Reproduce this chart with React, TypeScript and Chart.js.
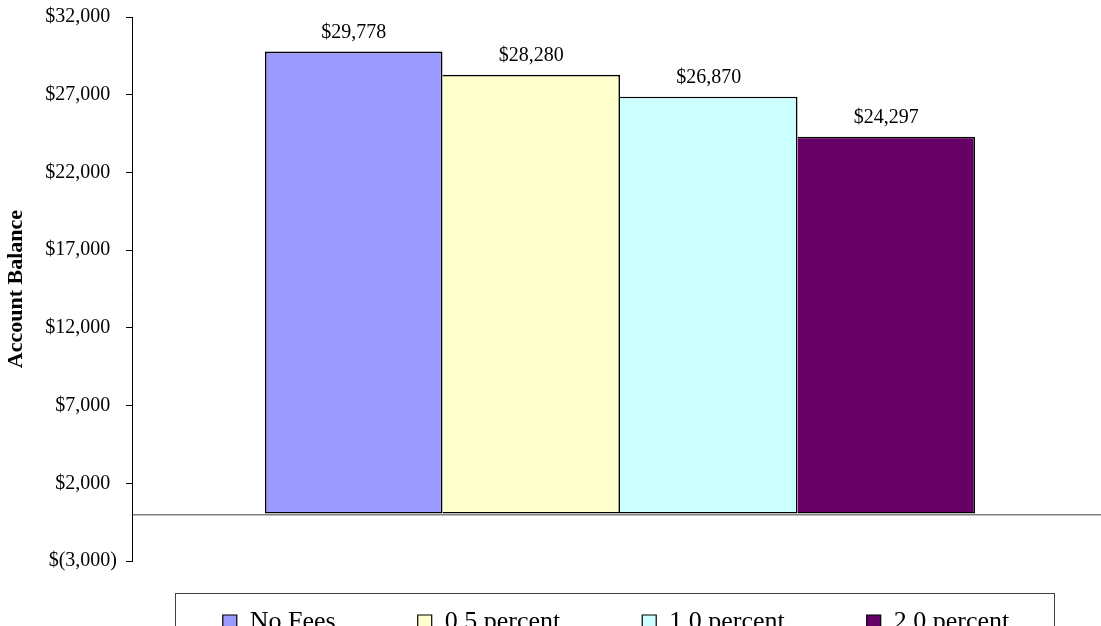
import React, { useEffect, useRef } from 'react';
import { Chart, registerables } from 'chart.js';

Chart.register(...registerables);

const categories = ['Account Balance'];
const seriesNames = ['No Fees', '0.5 percent', '1.0 percent', '2.0 percent'];
const seriesValues = [29778, 28280, 26870, 24297];
const seriesColors = ['#9999FF', '#FFFFCC', '#CCFFFF', '#660066'];
const yMin = -3000;
const yMax = 32000;
const yStep = 5000;
const yTitle = 'Account Balance';

const FONT = "'Liberation Serif', 'Times New Roman', serif";

const money = (v: number) => '$' + Math.abs(v).toLocaleString('en-US');
const tickLabel = (v: number) => (v < 0 ? '$(' + Math.abs(v).toLocaleString('en-US') + ')' : money(v) + '\u2004');

const ROW_GAP = 48; // legend row offset below the plot area
const ROW_SHIFT = -4; // horizontal nudge of the legend row

const legendFramePlugin = {
  id: 'legendFrame',
  afterLayout(chart: any) {
    const lg = chart.legend;
    if (!lg) return;
    const pad = lg.options.labels.padding;
    const rowY = chart.chartArea.bottom + ROW_GAP;
    const dy = rowY - pad - lg.top;
    lg.top += dy;
    lg.bottom += dy;
    lg.left += ROW_SHIFT;
    lg.right += ROW_SHIFT;
  },
  afterDraw(chart: any) {
    const lg = chart.legend;
    if (!lg || !lg.legendHitBoxes || !lg.legendHitBoxes.length) return;
    const boxes = lg.legendHitBoxes;
    const first = boxes[0];
    const last = boxes[boxes.length - 1];
    const left = Math.round(first.left - 48) + 0.5;
    const right = Math.round(last.left + last.width + 45) + 0.5;
    const top = 593.5;
    const ctx = chart.ctx;
    ctx.save();
    ctx.strokeStyle = '#404040';
    ctx.lineWidth = 1;
    ctx.strokeRect(left, top, right - left, 80);
    ctx.restore();
  },
};

const valueLabelPlugin = {
  id: 'valueLabels',
  afterDatasetsDraw(chart: any) {
    const ctx = chart.ctx;
    ctx.save();
    ctx.font = '20px ' + FONT;
    ctx.fillStyle = '#000';
    ctx.textAlign = 'center';
    ctx.textBaseline = 'alphabetic';
    chart.data.datasets.forEach((ds: any, i: number) => {
      const meta = chart.getDatasetMeta(i);
      meta.data.forEach((bar: any, j: number) => {
        ctx.fillText(money(ds.data[j]), bar.x, bar.y - 13.5);
      });
    });
    ctx.restore();
  },
};

export default function App() {
  const canvasRef = useRef<HTMLCanvasElement | null>(null);

  useEffect(() => {
    const canvas = canvasRef.current;
    if (!canvas) return;
    Chart.defaults.font.family = FONT;
    Chart.defaults.color = '#000';

    const chart = new Chart(canvas, {
      type: 'bar',
      data: {
        labels: categories,
        datasets: seriesNames.map((name, i) => ({
          label: name,
          data: [seriesValues[i]],
          backgroundColor: seriesColors[i],
          borderColor: '#000',
          borderWidth: i === 0 ? 1.6 : { top: 1.6, right: 1.6, bottom: 1.6, left: 0 },
          borderSkipped: false,
          barPercentage: 1,
          categoryPercentage: 0.7275,
        })),
      },
      options: {
        responsive: false,
        animation: false,
        devicePixelRatio: 1,
        layout: { padding: { left: 0, right: 0, top: 17, bottom: 0 } },
        plugins: {
          tooltip: { enabled: false },
          legend: {
            position: 'bottom',
            fullSize: false,
            labels: {
              boxWidth: 14,
              boxHeight: 14,
              padding: 82,
              color: '#000',
              font: { size: 26, family: FONT },
              generateLabels: (chart: any) =>
                chart.data.datasets.map((ds: any, i: number) => ({
                  text: ds.label,
                  fillStyle: ds.backgroundColor,
                  strokeStyle: '#000',
                  lineWidth: 1.2,
                  hidden: false,
                  datasetIndex: i,
                  fontColor: '#000',
                })),
            },
          },
        },
        scales: {
          x: {
            type: 'category',
            display: false,
            grid: { display: false },
          },
          y: {
            min: yMin,
            max: yMax,
            afterBuildTicks: (scale: any) => {
              if (!scale.ticks.some((t: any) => t.value === 0)) {
                scale.ticks = [...scale.ticks, { value: 0 }].sort((a: any, b: any) => a.value - b.value);
              }
            },
            afterFit: (scale: any) => {
              scale.width = 132;
              scale.paddingTop = 0;
              scale.paddingBottom = 0;
            },
            ticks: {
              stepSize: yStep,
              color: '#000',
              padding: 9,
              font: { size: 20, family: FONT },
              callback: (v: any) => (Number(v) === 0 ? '' : tickLabel(Number(v))),
            },
            grid: {
              drawOnChartArea: true,
              drawTicks: true,
              tickLength: 6,
              color: (c: any) => (c.tick && c.tick.value === 0 ? '#808080' : 'rgba(0,0,0,0)'),
              tickColor: (c: any) => (c.tick && c.tick.value === 0 ? 'rgba(0,0,0,0)' : '#000'),
              lineWidth: (c: any) => (c.tick && c.tick.value === 0 ? 1.5 : 1),
            },
            border: { display: true, color: '#000', width: 1 },
            title: {
              display: true,
              text: yTitle,
              color: '#000',
              font: { size: 22, weight: 'bold', family: FONT },
              padding: { top: 3, bottom: 0 },
            },
          },
        },
      },
      plugins: [legendFramePlugin, valueLabelPlugin],
    } as any);

    return () => chart.destroy();
  }, []);

  return (
    <div style={{ position: 'absolute', left: 0, top: 0, width: 1101, height: 626, overflow: 'hidden', background: '#fff' }}>
      <canvas ref={canvasRef} width={1108} height={679} style={{ width: 1108, height: 679, display: 'block' }} />
    </div>
  );
}
